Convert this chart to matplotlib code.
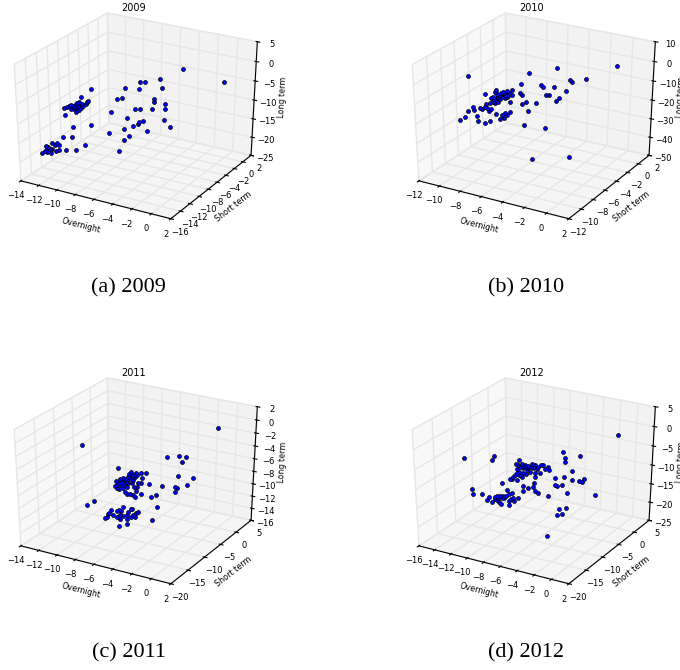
import matplotlib
matplotlib.use("Agg")
import matplotlib.pyplot as plt

years = ["2009", "2010", "2011", "2012"]
captions = ["(a) 2009", "(b) 2010", "(c) 2011", "(d) 2012"]
xlims = [(-14, 2), (-12, 2), (-14, 2), (-16, 2)]
ylims = [(-16, 2), (-12, 2), (-20, 5), (-20, 5)]
zlims = [(-25, 5), (-50, 10), (-16, 2), (-25, 5)]
xstep = [2, 2, 2, 2]
ystep = [2, 2, 5, 5]
zstep = [5, 10, 2, 5]

overnight_2009 = [-3.01,-0.18,-9.13,-6.84,-5.91,-5.86,-5.53,-4.55,-4.40,-7.38,-7.09,-9.78,-9.35,-4.92,
    -4.89,-4.19,-4.16,-5.05,-5.86,-6.20,-7.81,-6.76,-4.22,-5.63,-5.93,-6.00,-6.36,-3.80,-6.95,
    -5.36,-7.97,-6.63,-6.93,-7.28,-9.19,-10.35,-11.06,-10.48,-9.60,-10.19,-10.86,-10.85,-10.92,
    -10.74,-10.59,-10.43,-10.30,-10.13,-10.04,-9.90,-9.75,-9.65,-9.47,-9.37,-10.49,-10.27,-10.09,
    -10.14,-9.96,-9.80,-10.35,-10.00,-9.86,-12.52,-12.27,-12.17,-12.21,-12.08,-12.14,-11.92,
    -11.95,-11.80,-11.61,-11.45,-11.32,-11.82,-11.58,-11.33,-12.07]
short_2009 = [-3.63,-0.45,-10.53,-7.95,-6.89,-6.84,-6.47,-5.36,-5.2,-8.55,-8.23,-11.26,-10.77,-5.78,-5.75,-4.96,-4.93,-5.93,-6.84,-7.22,-9.04,-7.86,-5.0,-6.59,-6.92,-6.99,-7.4,-4.53,-8.07,-6.28,-9.21,-7.71,-8.05,-8.44,-10.59,-11.89,-12.69,-12.04,-11.05,-11.72,-12.47,-12.46,-12.54,-12.34,-12.16,-11.99,-11.84,-11.64,-11.54,-11.39,-11.22,-11.1,-10.9,-10.8,-12.05,-11.8,-11.6,-11.66,-11.46,-11.28,-11.89,-11.5,-11.35,-14.33,-14.05,-13.95,-13.99,-13.84,-13.91,-13.66,-13.7,-13.53,-13.31,-13.13,-12.99,-13.55,-13.28,-13.0,-13.83]
long_2009 = [-0.09,-4.54,-2.79,-3.57,-4.1,-2.41,-2.46,-1.97,-4.5,-6.18,-6.04,-4.66,-5.76,-7.13,-7.83,-8.54,-9.95,-9.68,-9.36,-9.06,-9.29,-11.27,-12.82,-12.42,-12.57,-13.25,-13.54,-14.76,-14.09,-15.19,-14.82,-15.99,-16.94,-19.75,-12.13,-12.26,-14.42,-14.84,-17.24,-18.24,-17.95,-8.85,-6.94,-6.75,-6.64,-6.36,-6.75,-6.31,-6.01,-5.89,-6.46,-7.01,-6.65,-6.09,-7.54,-7.45,-7.44,-8.36,-7.92,-7.47,-6.91,-6.87,-6.76,-18.14,-17.62,-17.04,-16.41,-16.64,-17.94,-18.48,-17.31,-15.87,-16.4,-16.02,-16.61,-17.37,-17.92,-17.75,-17.71]

overnight_2010 = [-0.21,-8.92,-5.42,-3.77,-2.98,-2.86,-2.05,-5.85,-4.70,-4.57,-3.92,-3.21,-5.93,-5.80,
    -4.41,-4.21,-3.66,-3.81,-5.58,-5.84,-5.00,-6.50,-5.47,-5.69,-4.46,-5.24,-2.96,-7.96,-7.32,
    -7.38,-7.25,-7.64,-7.48,-7.19,-7.06,-6.94,-6.71,-6.42,-6.55,-6.40,-6.81,-6.94,-7.10,-7.33,
    -7.53,-7.68,-7.39,-7.25,-7.00,-6.69,-6.86,-7.45,-7.13,-6.61,-6.81,-7.20,-7.94,-7.98,-7.85,
    -7.63,-7.75,-8.27,-8.18,-8.67,-8.60,-8.95,-9.17,-9.43,-8.44,-8.41,-8.00,-7.71,-7.35,-7.12,
    -6.87,-6.98,-6.84,-6.71,-6.55]
short_2010 = [-0.21,-8.92,-5.42,-3.77,-2.98,-2.86,-2.05,-5.85,-4.70,-4.57,-3.92,-3.21,-5.93,-5.80,
    -4.41,-4.21,-3.66,-3.81,-5.58,-5.84,-5.00,-6.50,-5.47,-5.69,-4.46,-5.24,-2.96,-7.96,-7.32,
    -7.38,-7.25,-7.64,-7.48,-7.19,-7.06,-6.94,-6.71,-6.42,-6.55,-6.40,-6.81,-6.94,-7.10,-7.33,
    -7.53,-7.68,-7.39,-7.25,-7.00,-6.69,-6.86,-7.45,-7.13,-6.61,-6.81,-7.20,-7.94,-7.98,-7.85,
    -7.63,-7.75,-8.27,-8.18,-8.67,-8.60,-8.95,-9.17,-9.43,-8.44,-8.41,-8.00,-7.71,-7.35,-7.12,
    -6.87,-6.98,-6.84,-6.71,-6.55]
long_2010 = [-0.63,1.63,0.51,1.32,-5.09,-6.56,-5.71,-4.67,-6.17,-7.65,-7.86,-10.88,-9.36,-10.50,
    -11.55,-11.72,-14.10,-15.17,-14.29,-15.10,-15.16,-13.47,-18.89,-26.02,-28.76,-44.71,-46.04,
    -7.93,-6.62,-7.58,-8.72,-10.42,-9.87,-10.13,-8.21,-7.80,-7.49,-7.41,-8.99,-9.80,-9.62,-10.38,
    -11.57,-11.71,-12.39,-12.77,-13.37,-10.93,-9.11,-10.91,-8.71,-11.27,-9.33,-10.13,-11.32,
    -12.68,-13.22,-14.90,-15.54,-15.90,-16.82,-15.15,-15.58,-14.11,-15.54,-16.09,-18.64,-20.13,
    -19.14,-21.42,-22.83,-22.06,-19.09,-21.90,-21.44,-19.95,-19.03,-20.02,-18.78]

overnight_2011 = [-0.62,-9.67,-4.02,-3.20,-2.77,-2.99,-7.34,-3.27,-2.23,-2.63,-4.36,-3.48,-3.34,-3.45,
    -4.74,-5.13,-5.27,-4.71,-5.03,-8.98,-9.44,-5.77,-5.48,-5.82,-6.13,-6.49,-6.58,-6.31,-6.04,
    -6.69,-6.42,-5.75,-6.20,-6.85,-6.58,-7.03,-7.21,-7.48,-7.30,-7.08,-6.81,-7.55,-7.39,-7.17,
    -6.94,-7.44,-7.26,-6.76,-6.42,-5.97,-5.79,-6.04,-6.24,-6.13,-6.90,-6.72,-6.54,-6.36,-6.20,
    -6.99,-6.65,-6.31,-7.84,-7.46,-7.27,-7.02,-6.48,-6.38,-5.97,-6.13,-6.32,-6.50,-6.77,-7.00,
    -7.23,-7.46,-7.69,-7.96,-8.10,-8.24,-7.23,-6.78,-6.78,-7.28,-8.03,-7.18,-6.66,-6.20]
short_2011 = [0.9,-13.23,-4.4,-3.13,-2.45,-2.8,-9.59,-3.23,-1.61,-2.24,-4.93,-3.57,-3.35,-3.52,-5.53,-6.14,-6.36,-5.48,-5.98,-12.16,-12.87,-7.14,-6.68,-7.21,-7.7,-8.27,-8.41,-7.99,-7.56,-8.58,-8.16,-7.1,-7.81,-8.83,-8.41,-9.11,-9.39,-9.81,-9.54,-9.18,-8.76,-9.92,-9.68,-9.33,-8.97,-9.75,-9.47,-8.69,-8.16,-7.46,-7.17,-7.56,-7.88,-7.71,-8.91,-8.63,-8.34,-8.06,-7.81,-9.05,-8.52,-7.99,-10.38,-9.78,-9.49,-9.1,-8.24,-8.1,-7.46,-7.71,-7.99,-8.28,-8.71,-9.07,-9.42,-9.78,-10.14,-10.56,-10.78,-10.99,-9.43,-8.71,-8.72,-9.51,-10.67,-9.35,-8.53,-7.82]
long_2011 = [-0.71,-1.29,-4.4,-4.33,-4.64,-5.31,-5.23,-7.55,-8.0,-9.07,-8.87,-9.19,-9.33,-9.99,-10.16,-10.38,-8.33,-12.1,-14.08,-10.01,-10.64,-9.69,-6.5,-6.42,-6.29,-6.16,-6.45,-6.62,-6.68,-6.79,-6.95,-7.22,-7.01,-7.06,-7.23,-6.97,-7.08,-7.33,-7.58,-7.48,-7.54,-8.04,-7.92,-7.98,-7.93,-8.44,-8.64,-8.34,-7.79,-8.0,-8.0,-8.51,-8.52,-9.23,-9.2,-9.51,-9.5,-9.76,-10.17,-8.55,-7.84,-7.4,-11.74,-12.0,-11.93,-11.57,-11.98,-12.0,-12.53,-12.66,-12.99,-13.21,-12.87,-12.92,-12.75,-12.96,-12.64,-12.19,-12.8,-12.98,-13.46,-13.57,-14.28,-14.48,-12.33,-12.06,-12.36,-13.29]

overnight_2012 = [-0.80,-12.38,-10.16,-10.29,-4.95,-4.79,-4.76,-3.65,-4.27,-5.54,
    -4.85,-4.23,-3.69,-3.45,-3.33,-5.56,-5.38,-5.00,-4.60,-2.38,-6.04,
    -5.23,-4.66,-4.99,-5.39,-6.16,-9.60,-8.01,-8.01,-7.61,-7.25,-7.17,
    -7.07,-6.87,-9.23,-11.84,-11.80,-11.10,-8.25,-8.50,-8.33,-8.08,-7.83,
    -7.57,-7.32,-7.07,-6.82,-6.62,-6.44,-6.11,-6.01,-6.29,-6.67,-7.07,
    -7.07,-7.45,-7.70,-7.95,-8.20,-8.41,-8.26,-8.01,-7.75,-8.46,-8.59,
    -8.71,-8.97,-8.79,-8.46,-8.08,-7.58,-7.25,-6.94,-8.00,-7.70,-7.40,
    -7.15,-8.26,-10.57,-10.76,-10.38,-10.12,-9.94,-9.74,-9.54,-9.29,-10.00,
    -9.80,-9.70,-10.12,-9.87,-9.62,-9.03,-8.85,-9.04,-9.04,-8.66,-8.73,
    -8.37,-8.91,-9.44]
short_2012 = [1.11,-14.97,-11.89,-12.07,-4.66,-4.44,-4.40,-2.85,-3.70,-5.48,
    -4.52,-3.65,-2.90,-2.57,-2.40,-5.50,-5.25,-4.72,-4.17,-1.09,-6.17,
    -5.05,-4.25,-4.72,-5.26,-6.33,-11.11,-8.90,-8.91,-8.34,-7.85,-7.74,
    -7.60,-7.32,-10.60,-14.22,-14.16,-13.19,-9.24,-9.59,-9.34,-9.00,-8.65,
    -8.30,-7.95,-7.60,-7.25,-6.97,-6.72,-6.26,-6.12,-6.51,-7.04,-7.60,
    -7.60,-8.13,-8.47,-8.82,-9.17,-9.45,-9.25,-8.90,-8.55,-9.53,-9.70,
    -9.88,-10.23,-9.99,-9.53,-9.00,-8.30,-7.84,-7.42,-8.89,-8.47,-8.05,
    -7.70,-9.25,-12.46,-12.72,-12.20,-11.84,-11.59,-11.31,-11.03,-10.68,
    -11.67,-11.39,-11.25,-11.84,-11.49,-11.14,-10.32,-10.07,-10.33,-10.34,
    -9.80,-9.90,-9.41,-10.15,-10.89]
long_2012 = [-1.26,-3.18,-3.5,-4.39,-4.24,-5.75,-6.79,-5.71,-9.48,-10.69,-10.76,-11.68,-12.23,-12.49,-11.82,-12.62,-12.94,-12.91,-15.0,-16.34,-15.36,-19.06,-19.1,-20.6,-20.72,-26.1,-10.74,-11.91,-13.23,-12.76,-12.45,-11.6,-13.66,-14.17,-12.62,-11.5,-12.74,-12.99,-5.17,-6.11,-6.43,-6.26,-6.6,-6.95,-6.52,-6.86,-7.38,-6.93,-7.08,-7.8,-8.61,-8.26,-8.99,-9.02,-9.89,-8.46,-7.94,-7.42,-7.07,-7.52,-8.18,-8.7,-8.96,-8.54,-8.93,-9.49,-9.83,-9.89,-10.27,-9.71,-7.55,-7.66,-8.03,-6.8,-7.25,-7.18,-7.44,-9.04,-13.97,-14.78,-15.28,-14.22,-13.94,-14.01,-14.08,-14.18,-14.97,-15.49,-16.15,-14.75,-14.58,-14.67,-13.74,-13.63,-15.68,-16.66,-15.73,-15.0,-15.13,-15.2,-14.74]

overnight = [overnight_2009, overnight_2010, overnight_2011, overnight_2012]
short_term = [short_2009, short_2010, short_2011, short_2012]
long_term = [long_2009, long_2010, long_2011, long_2012]

# panel centres in pixels, axes are stretched 4:3 like the old mplot3d
cx = [134, 532, 134, 532]
cy = [115, 115, 480, 480]
W, H = 680.0, 670.0
AW, AH = 291.0, 223.0

fig = plt.figure(figsize=(6.8, 6.7), dpi=100)
for i in range(4):
    ax = fig.add_axes([(cx[i] - AW/2)/W, 1 - (cy[i] + AH/2)/H, AW/W, AH/H], projection="3d")
    ax.apply_aspect = lambda position=None: None
    ax.set_box_aspect((1, 1, 1))
    ax.scatter(overnight[i], short_term[i], long_term[i], s=8, c="b", edgecolors="k",
               linewidths=0.5, depthshade=False)
    ax.set_xlim(*xlims[i], view_margin=0)
    ax.set_ylim(*ylims[i], view_margin=0)
    ax.set_zlim(*zlims[i], view_margin=0)
    ax.set_xticks(range(xlims[i][0], xlims[i][1] + 1, xstep[i]))
    ax.set_yticks(range(ylims[i][0], ylims[i][1] + 1, ystep[i]))
    ax.set_zticks(range(zlims[i][0], zlims[i][1] + 1, zstep[i]))
    ax.tick_params(axis="x", labelsize=6, pad=-2.3)
    ax.tick_params(axis="y", labelsize=6, pad=-2.3)
    ax.tick_params(axis="z", labelsize=6, pad=-2)
    ax.set_xlabel("Overnight", fontsize=5.8, labelpad=-7)
    ax.set_ylabel("Short term", fontsize=5.8, labelpad=-7.5)
    ax.set_zlabel("Long term", fontsize=5.8, labelpad=-9)
    for axis in (ax.xaxis, ax.yaxis, ax.zaxis):
        axis._axinfo["grid"]["color"] = (0.9, 0.9, 0.9, 1)
        axis._axinfo["grid"]["linewidth"] = 1
    fig.text(cx[i]/W, 1 - (cy[i] - 107)/H, years[i], fontsize=7, ha="center", va="center")
    fig.text((cx[i] - 5.5)/W, 1 - (cy[i] + 173)/H, captions[i], fontsize=16,
             family="Liberation Serif", ha="center", va="center")

fig.savefig("out.png", dpi=100)
